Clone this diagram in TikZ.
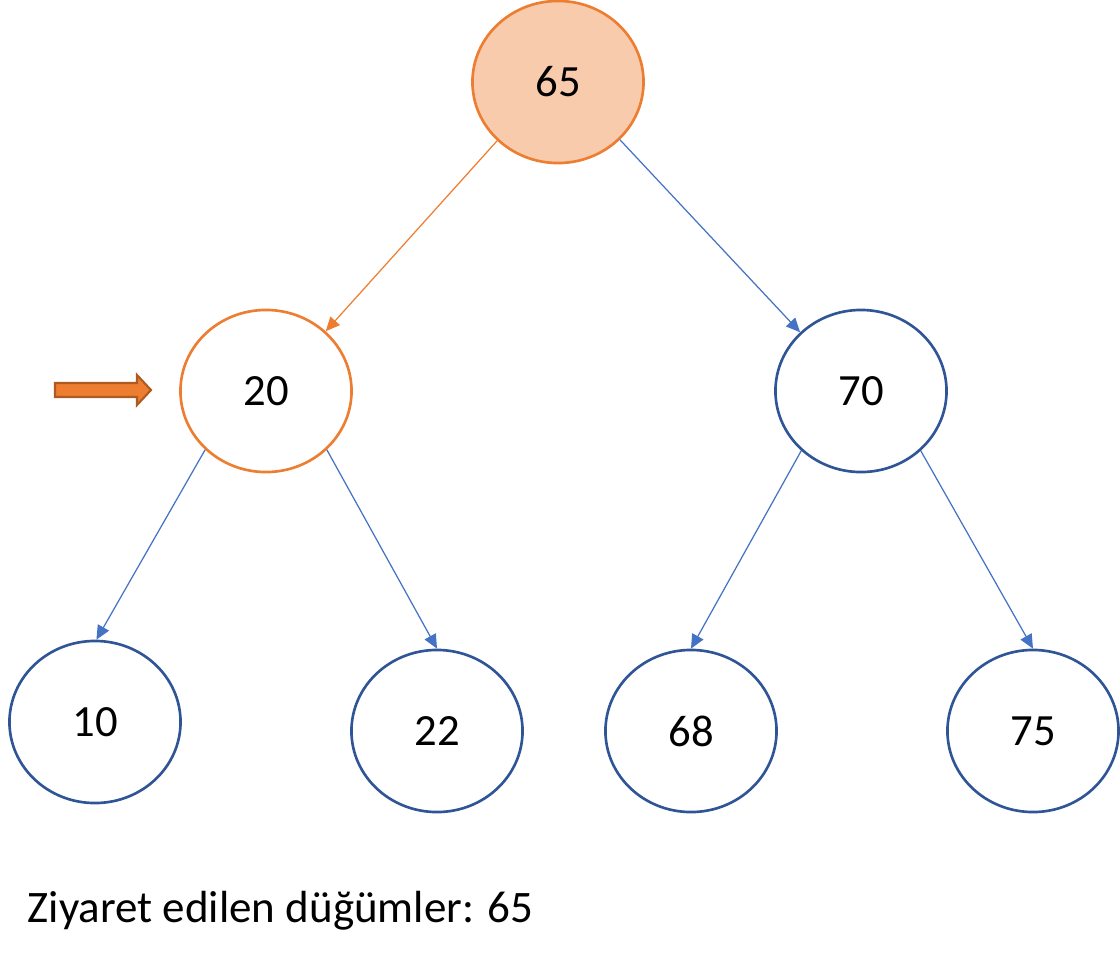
\documentclass[tikz,border=0pt]{standalone}
\usepackage{fontspec}
\setmainfont{Carlito}
\usetikzlibrary{shapes.geometric,arrows.meta}
\definecolor{nodeorange}{HTML}{ED7D31}
\definecolor{nodefill}{HTML}{F8CBAD}
\definecolor{nodeblue}{HTML}{2F5597}
\definecolor{edgeblue}{HTML}{4472C4}
\definecolor{markdark}{HTML}{AE5A21}
\begin{document}
\begin{tikzpicture}[x=0.01cm,y=-0.01cm,
    treenode/.style={ellipse, draw=nodeblue, line width=0.75pt, minimum width=1.71cm,
      minimum height=1.62cm, inner sep=0pt, font=\fontsize{12.7}{15}\selectfont},
    visited/.style={draw=nodeorange},
    edge/.style={draw=edgeblue, line width=0.35pt, -{Triangle[length=4pt,width=3.6pt]}}]
        \useasboundingbox (0,0) rectangle (1120,960);

        \node [treenode, visited, fill=nodefill] (n65) at (558,82) {65};

        \node [treenode, visited] (n20) at (266,391) {20};
        \node [treenode] (n70) at (861,391) {70};

        \node [treenode] (n10) at (95,722) {10};
        \node [treenode] (n22) at (437,731) {22};
        \node [treenode] (n68) at (691,731) {68};
        \node [treenode] (n75) at (1033,731) {75};

        \draw [edge, draw=nodeorange] (n65.224) -- (n20.45);
        \draw [edge] (n65.-43) -- (n70.136);
        \draw [edge] (n20.224) -- (n10.89);
        \draw [edge] (n20.316) -- (n22.north);
        \draw [edge] (n70.225) -- (n68.north);
        \draw [edge] (n70.315) -- (n75.north);

        % current node marker
        \filldraw [fill=nodeorange, draw=markdark, line width=0.6pt]
          (55,383) -- (137,383) -- (137,375) -- (151,390) -- (137,405) -- (137,397) -- (55,397) -- cycle;

        \node [anchor=base west, inner sep=0pt, font=\fontsize{12.8}{15}\selectfont] (visitlabel)
          at (27,922) {Ziyaret edilen düğümler: 65};
      \end{tikzpicture}
\end{document}
